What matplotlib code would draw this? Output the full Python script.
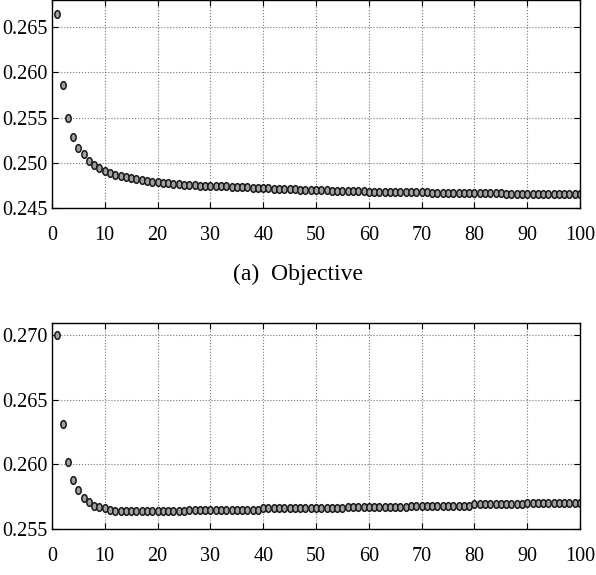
import numpy as np
import matplotlib.pyplot as plt
from matplotlib.path import Path

plt.rcParams['font.family'] = ['Liberation Serif', 'DejaVu Serif']

iters = list(range(1, 101))

top_vals = [0.2665, 0.2586, 0.2550, 0.2529, 0.2516, 0.2510, 0.2502, 0.2498, 0.2494, 0.2491,
            0.2489, 0.2487, 0.2485, 0.2484, 0.2483, 0.2482, 0.2481, 0.2480, 0.2479, 0.2479,
            0.2478, 0.2478, 0.2477, 0.2477, 0.2476, 0.2476, 0.2476, 0.2475, 0.2475, 0.2475,
            0.2474, 0.2474, 0.2474, 0.2473, 0.2473, 0.2473, 0.2473, 0.2472, 0.2472, 0.2472,
            0.2472, 0.2471, 0.2471, 0.2471, 0.2471, 0.2471, 0.2470, 0.2470, 0.2470, 0.2470,
            0.2470, 0.2470, 0.2469, 0.2469, 0.2469, 0.2469, 0.2469, 0.2469, 0.2469, 0.2468,
            0.2468, 0.2468, 0.2468, 0.2468, 0.2468, 0.2468, 0.2468, 0.2468, 0.2468, 0.2468,
            0.2468, 0.2467, 0.2467, 0.2467, 0.2467, 0.2467, 0.2467, 0.2467, 0.2467, 0.2467,
            0.2467, 0.2467, 0.2467, 0.2467, 0.2467, 0.2466, 0.2466, 0.2466, 0.2466, 0.2466,
            0.2466, 0.2466, 0.2466, 0.2466, 0.2466, 0.2466, 0.2466, 0.2466, 0.2466, 0.2466]

bottom_vals = [0.2700, 0.2631, 0.2602, 0.2588, 0.2580, 0.2574, 0.2571, 0.2568, 0.2567, 0.2566,
               0.2565, 0.2564, 0.2564, 0.2564, 0.2564, 0.2564, 0.2564, 0.2564, 0.2564, 0.2564,
               0.2564, 0.2564, 0.2564, 0.2564, 0.2564, 0.2565, 0.2565, 0.2565, 0.2565, 0.2565,
               0.2565, 0.2565, 0.2565, 0.2565, 0.2565, 0.2565, 0.2565, 0.2565, 0.2565, 0.2566,
               0.2566, 0.2566, 0.2566, 0.2566, 0.2566, 0.2566, 0.2566, 0.2566, 0.2566, 0.2566,
               0.2566, 0.2566, 0.2566, 0.2566, 0.2566, 0.2567, 0.2567, 0.2567, 0.2567, 0.2567,
               0.2567, 0.2567, 0.2567, 0.2567, 0.2567, 0.2567, 0.2567, 0.2568, 0.2568, 0.2568,
               0.2568, 0.2568, 0.2568, 0.2568, 0.2568, 0.2568, 0.2568, 0.2568, 0.2568, 0.2569,
               0.2569, 0.2569, 0.2569, 0.2569, 0.2569, 0.2569, 0.2569, 0.2569, 0.2569, 0.2570,
               0.2570, 0.2570, 0.2570, 0.2570, 0.2570, 0.2570, 0.2570, 0.2570, 0.2570, 0.2570]

top_yticks = [0.245, 0.250, 0.255, 0.260, 0.265]
bottom_yticks = [0.255, 0.260, 0.265, 0.270]
xticks = list(range(0, 101, 10))

# tall ellipse marker, like the squashed circles in the original
circ = Path.unit_circle()
oval = Path(circ.vertices * np.array([0.7, 1.0]), circ.codes)

fig = plt.figure(figsize=(5.96, 5.75), dpi=100)
ax1 = fig.add_axes([0.0872, 0.638, 0.886, 0.362])
ax2 = fig.add_axes([0.0872, 0.080, 0.886, 0.358])

def style(ax, vals, yticks, ylim):
    ax.plot(iters, vals, linestyle='none', marker=oval, ms=5.5, mfc='#a0a0a0',
            mec='#1a1a1a', mew=1.1)
    ax.set_xlim(0, 100)
    ax.set_ylim(*ylim)
    ax.set_xticks(xticks)
    ax.set_yticks(yticks)
    ax.set_yticklabels(['%.3f' % v for v in yticks])
    ax.grid(True, color='#777777', linestyle=':', linewidth=0.8)
    ax.tick_params(direction='in', top=True, right=True, labelsize=14.5, length=4)
    ax.tick_params(axis='x', pad=13)
    ax.tick_params(axis='y', pad=3)
    for s in ax.spines.values():
        s.set_linewidth(1.0)

style(ax1, top_vals, top_yticks, (0.245, 0.268))
style(ax2, bottom_vals, bottom_yticks, (0.255, 0.2709))

fig.text(0.5, 0.522, '(a)  Objective', ha='center', va='center', fontsize=17)

fig.savefig('out.png', dpi=100)
